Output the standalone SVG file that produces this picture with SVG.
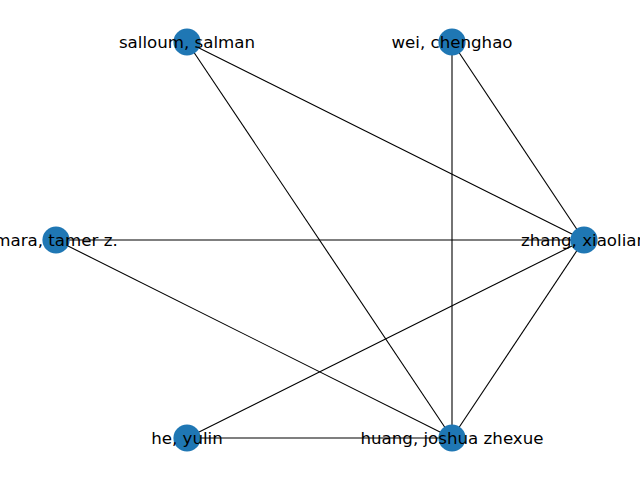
<svg xmlns="http://www.w3.org/2000/svg" width="640" height="480" viewBox="0 0 640 480">
<style>
.e{stroke:#000;stroke-width:1.1;fill:none}
.n{fill:#1f77b4}
.t{font-family:"DejaVu Sans",sans-serif;font-size:16.67px;fill:#000;text-anchor:middle}
</style>
<rect width="640" height="480" fill="#fff"/>
<g id="edges">
<line class="e" x1="187" y1="42" x2="584" y2="240"/>
<line class="e" x1="187" y1="42" x2="452" y2="438"/>
<line class="e" x1="452" y1="42" x2="452" y2="438"/>
<line class="e" x1="452" y1="42" x2="584" y2="240"/>
<line class="e" x1="56" y1="240" x2="584" y2="240"/>
<line class="e" x1="56" y1="240" x2="452" y2="438"/>
<line class="e" x1="187" y1="438" x2="584" y2="240"/>
<line class="e" x1="187" y1="438" x2="452" y2="438"/>
<line class="e" x1="584" y1="240" x2="452" y2="438"/>
</g>
<g id="node-zhang"><circle class="n" cx="584" cy="240" r="13.6"/><text class="t" x="584" y="246">zhang, xiaolian</text></g>
<g id="node-wei"><circle class="n" cx="452" cy="42" r="13.6"/><text class="t" x="452" y="48">wei, chenghao</text></g>
<g id="node-salloum"><circle class="n" cx="187" cy="42" r="13.6"/><text class="t" x="187" y="48">salloum, salman</text></g>
<g id="node-mara"><circle class="n" cx="56" cy="240" r="13.6"/><text class="t" x="56" y="246">mara, tamer z.</text></g>
<g id="node-he"><circle class="n" cx="187" cy="438" r="13.6"/><text class="t" x="187" y="444">he, yulin</text></g>
<g id="node-huang"><circle class="n" cx="452" cy="438" r="13.6"/><text class="t" x="452" y="444">huang, joshua zhexue</text></g>
</svg>
